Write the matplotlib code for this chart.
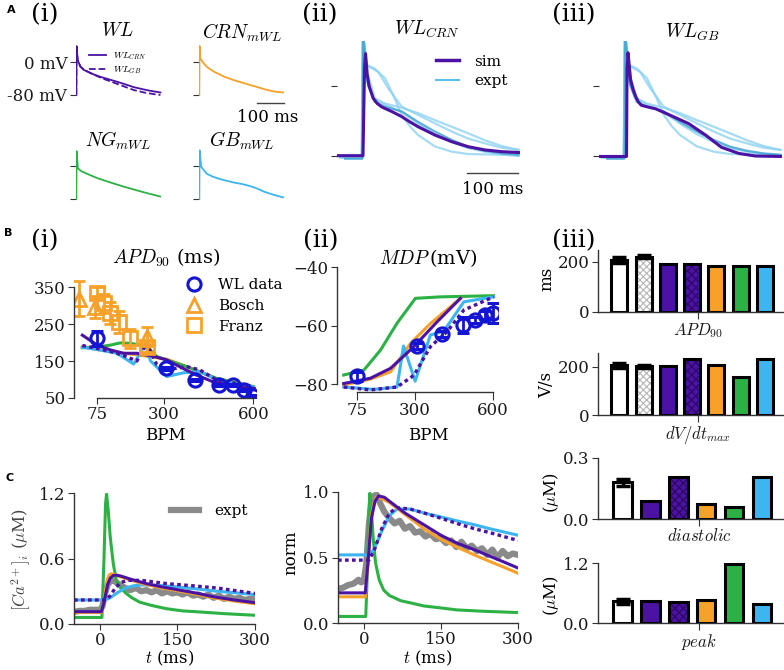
import matplotlib
matplotlib.use("Agg")
import matplotlib.pyplot as plt
from matplotlib.lines import Line2D

# colours
PURPLE = "#4b12a3"
ORANGE = "#f8a12a"
GREEN = "#2cb144"
BLUE = "#3db5f0"
EXPT_LIGHT = "#8fd2f2"
EXPT_DARK = "#3a9fd0"
WL_BLUE = "#1414d4"
GRAY = "#8a8a8a"

# ---------------- A(i): single action potentials (t in ms, V in mV)
t_wl_crn = [0, 1, 5, 15, 27, 60, 89, 120, 151, 180, 212, 245, 274, 311]
v_wl_crn = [-80, 38, 5, -11, -19, -29, -36, -42, -48, -54, -61, -66, -70, -74]
t_wl_gb = [0, 1, 5, 15, 27, 50, 76, 105, 138, 175, 212, 250, 286, 311]
v_wl_gb = [-80, 38, 4, -11, -18, -26, -34, -42, -50, -59, -68, -74, -78, -80]
t_crn = [0, 1, 4, 16, 30, 53, 90, 127, 158, 189, 220, 251, 280, 310]
v_crn = [-80, 39, 8, -3, -13, -23, -35, -44, -50, -56, -62, -68, -72, -74]
t_ng = [0, 1, 6, 20, 40, 80, 126, 170, 212, 245, 274, 310]
v_ng = [-80, 36, -6, -13, -19, -30, -40, -49, -57, -63, -68, -74]
t_gb = [0, 1, 7, 28, 50, 78, 127, 160, 189, 215, 238, 275, 310]
v_gb = [-80, 38, -2, -19, -26, -32, -40, -44, -49, -55, -62, -70, -76]

# ---------------- A(ii)/(iii): sim vs experiment
t_sim_crn = [-51, 0, 3, 5, 8, 12, 20, 28, 37, 56, 76, 92, 108, 141, 174, 206, 239, 272, 305]
v_sim_crn = [-79.6, -79.6, 20, 37, 14, 0, -14, -20, -24, -29, -35, -41, -46.5, -56, -63.6, -69.3, -73, -75, -76]
t_sim_gb = [-51, 3, 4, 6, 11, 16, 21, 26, 32, 45, 60, 91, 125, 158, 189, 223, 256, 305]
v_sim_gb = [-80.5, -80.5, 20, 38, 7, -4, -12, -18, -22, -24, -26, -34, -43, -56, -70, -77, -80, -80.5]

t_e1 = [-35, -3, 0, 7, 23, 43, 59, 76, 92, 108, 141, 174, 206, 305]
v_e1 = [-82.7, -82.7, 60, 24, 20, 9, -10, -33, -46, -56, -69, -75, -77.7, -79]
t_e2 = [-45, -2, 0, 7, 30, 50, 76, 108, 141, 174, 206, 239, 272, 305]
v_e2 = [-82, -82, 60, 24, 16, -3, -23.6, -33, -42.6, -52, -60, -65.5, -70.5, -73]
t_e3 = [-40, -2, 0, 10, 23, 43, 76, 108, 141, 174, 206, 239, 272, 305]
v_e3 = [-82, -82, 60, 12.6, -14, -20, -24.8, -31, -39, -46.5, -54, -62, -68.6, -73]
t_e4 = [-35, -1, 0, 10, 23, 43, 76, 108, 141, 174, 206, 239, 272, 305]
v_e4 = [-83, -83, 60, 1, -18, -23.6, -29, -41, -52, -61.6, -69.3, -74, -77, -78.5]
t_e5 = [-45, -2, 0, 8, 20, 40, 76, 108, 141, 174, 206, 239, 272, 305]
v_e5 = [-81, -81, 60, 5, -14, -20, -30, -43, -55, -64, -71, -75, -78, -80]

# ---------------- B(i): APD90 vs BPM
bpm_wl = [75, 308, 405, 485, 530, 570, 600]
apd_wl = [211, 130, 99, 85, 85, 71, 55]
apd_wl_err = [20, 5, 3, 3, 3, 3, 3]
bpm_bosch = [15, 67, 242]
apd_bosch = [319, 297, 216]
apd_bosch_err = [47, 30, 25]
bpm_franz = [76, 98, 120, 148, 187, 242]
apd_franz = [335, 306, 279, 256, 211, 189]
apd_franz_err = [15, 25, 30, 30, 25, 15]

bpm_apd_wlcrn = [26, 76, 120, 164, 209, 264, 309, 364, 409, 464, 520, 603]
apd_wlcrn = [220, 193, 180, 171, 171, 163, 153, 130, 112, 94, 85, 76]
bpm_apd_wlgb = [26, 76, 120, 164, 209, 242, 276, 309, 376, 420, 476, 597]
apd_wlgb = [192, 184, 176, 165, 150, 199, 140, 126, 135, 126, 99, 81]
bpm_apd_crn = [26, 76, 142, 198, 242, 309, 376, 476, 600]
apd_crn = [189, 181, 173, 168, 163, 155, 135, 103, 81]
bpm_apd_ng = [26, 76, 120, 153, 187, 220, 242, 276, 309, 376, 476, 600]
apd_ng = [186, 188, 193, 199, 198, 193, 189, 162, 153, 135, 103, 81]
bpm_apd_gb = [26, 76, 142, 198, 237, 255, 309, 364, 420, 476, 530, 600]
apd_gb = [187, 181, 171, 142, 195, 150, 108, 118, 122, 100, 90, 80]

# ---------------- B(ii): MDP vs BPM
mdp_wl = [-77.3, -67, -62.9, -59.8, -58.1, -56.4, -55.8]
mdp_wl_err = [1.5, 1, 1, 2.7, 1, 1.5, 3.5]
bpm_mdp_ng = [24, 102, 166, 230, 301, 398, 603]
mdp_ng = [-76.9, -75.2, -68.4, -59.2, -50.7, -50.2, -49.8]
bpm_mdp_wlcrn = [24, 127, 205, 295, 385, 475]
mdp_wlcrn = [-79.8, -78, -74.6, -67.2, -58.7, -50.7]
bpm_mdp_crn = [24, 127, 205, 282, 359, 475]
mdp_crn = [-80.3, -78.3, -75.8, -66.1, -59.3, -50.7]
bpm_mdp_gb = [24, 140, 230, 255, 300, 359, 410, 488, 603]
mdp_gb = [-81, -81.8, -81, -67, -79, -63.2, -62, -51.9, -50.2]
bpm_mdp_wlgb = [24, 127, 230, 295, 359, 424, 488, 603]
mdp_wlgb = [-81, -82, -81, -77, -67.2, -62, -54.7, -50.2]

# ---------------- B(iii): summary bars
bar_colors7 = ["white", "white", PURPLE, PURPLE, ORANGE, GREEN, BLUE]
bar_hatch7 = [None, "xxxxx", None, "xxxx", None, None, None]
bar_colors6 = ["white", PURPLE, PURPLE, ORANGE, GREEN, BLUE]
bar_hatch6 = [None, None, "xxxx", None, None, None]
apd_bars = [207, 221, 193, 193, 186, 183, 186]
apd_bars_err = [12, 6]
dvdt_bars = [206, 202, 203, 234, 207, 159, 233]
dvdt_bars_err = [12, 5]
dia_bars = [0.18, 0.09, 0.207, 0.076, 0.059, 0.207]
dia_bars_err = [0.018]
peak_bars = [0.44, 0.45, 0.43, 0.47, 1.19, 0.39]
peak_bars_err = [0.05]

# ---------------- C: calcium transients
t_ca_expt = [-50, -40, -30, -20, -10, 0, 5, 10, 15, 20, 26, 35, 45, 58, 70, 80, 90, 100, 110,
             120, 130, 140, 150, 160, 170, 180, 190, 200, 210, 220, 230, 240, 250, 260, 270,
             280, 290, 300]
ca_expt = [0.11, 0.12, 0.12, 0.13, 0.13, 0.13, 0.16, 0.28, 0.36, 0.39, 0.40, 0.37, 0.34, 0.31,
           0.33, 0.30, 0.31, 0.29, 0.31, 0.28, 0.30, 0.28, 0.29, 0.27, 0.29, 0.26, 0.27, 0.25,
           0.27, 0.24, 0.26, 0.23, 0.25, 0.23, 0.24, 0.22, 0.23, 0.24]
t_ca_ng = [-50, 4, 8, 11, 13, 16, 20, 26, 32, 40, 51, 62, 77, 100, 129, 160, 194, 240, 300]
ca_ng = [0.06, 0.06, 0.6, 1.1, 1.19, 1.05, 0.80, 0.55, 0.40, 0.33, 0.28, 0.24, 0.20, 0.17, 0.14,
         0.12, 0.11, 0.095, 0.08]
t_ca_wlcrn = [-50, 3, 8, 15, 20, 26, 33, 40, 60, 90, 120, 155, 190, 219, 260, 300]
ca_wlcrn = [0.113, 0.113, 0.2, 0.36, 0.42, 0.445, 0.447, 0.44, 0.41, 0.37, 0.34, 0.31, 0.28, 0.25, 0.22, 0.195]
t_ca_crn = [-50, 3, 8, 14, 18, 22, 28, 35, 60, 90, 120, 155, 190, 219, 260, 300]
ca_crn = [0.105, 0.105, 0.22, 0.40, 0.45, 0.46, 0.455, 0.44, 0.40, 0.36, 0.33, 0.30, 0.27, 0.24, 0.21, 0.185]
t_ca_wlgb = [-50, 12, 20, 30, 40, 55, 80, 129, 180, 226, 300]
ca_wlgb = [0.22, 0.22, 0.26, 0.33, 0.38, 0.40, 0.40, 0.37, 0.35, 0.33, 0.28]
t_ca_gb = [-50, 10, 20, 35, 50, 65, 77, 110, 150, 190, 226, 300]
ca_gb = [0.22, 0.22, 0.24, 0.29, 0.33, 0.35, 0.357, 0.355, 0.34, 0.32, 0.30, 0.27]

t_n_expt = [-50, -40, -30, -20, -10, -5, 0, 5, 10, 15, 20, 25, 30, 40, 50, 60, 70, 80, 90, 100,
            110, 120, 130, 140, 150, 160, 170, 180, 190, 200, 210, 220, 230, 240, 250, 260,
            270, 280, 290, 300]
n_expt = [0.26, 0.27, 0.29, 0.30, 0.33, 0.31, 0.32, 0.45, 0.75, 0.92, 0.97, 0.98, 0.93, 0.85,
          0.80, 0.76, 0.78, 0.72, 0.74, 0.69, 0.70, 0.66, 0.68, 0.64, 0.65, 0.61, 0.63, 0.58,
          0.62, 0.57, 0.59, 0.55, 0.57, 0.52, 0.56, 0.50, 0.55, 0.51, 0.53, 0.52]
t_n_ng = [-50, 4, 8, 10, 12, 15, 19, 23, 30, 39, 50, 72, 95, 117, 150, 181, 230, 298]
n_ng = [0.05, 0.05, 0.5, 0.85, 0.99, 0.85, 0.62, 0.46, 0.33, 0.25, 0.21, 0.17, 0.15, 0.13, 0.115,
        0.10, 0.09, 0.08]
t_n_wlcrn = [-50, 3, 8, 15, 22, 29, 40, 50, 80, 117, 150, 181, 215, 245, 270, 300]
n_wlcrn = [0.23, 0.23, 0.45, 0.8, 0.93, 0.97, 0.96, 0.93, 0.84, 0.75, 0.67, 0.61, 0.56, 0.51, 0.47, 0.42]
t_n_crn = [-50, 3, 8, 14, 20, 25, 35, 50, 80, 117, 150, 181, 215, 245, 270, 300]
n_crn = [0.20, 0.20, 0.45, 0.8, 0.92, 0.96, 0.95, 0.92, 0.83, 0.72, 0.64, 0.58, 0.52, 0.47, 0.43, 0.38]
t_n_wlgb = [-50, 10, 20, 35, 50, 65, 90, 117, 150, 181, 215, 245, 300]
n_wlgb = [0.48, 0.48, 0.55, 0.72, 0.84, 0.88, 0.87, 0.84, 0.80, 0.76, 0.72, 0.69, 0.63]
t_n_gb = [-50, 10, 20, 35, 50, 65, 90, 117, 150, 181, 215, 245, 300]
n_gb = [0.52, 0.52, 0.56, 0.70, 0.82, 0.87, 0.87, 0.84, 0.81, 0.78, 0.75, 0.72, 0.67]

W, H = 784, 670
DOTTED = (0, (1.1, 1.0))

plt.rcParams.update({
    "font.family": "DejaVu Serif",
    "mathtext.fontset": "cm",
    "font.size": 12,
    "axes.linewidth": 1.0,
    "axes.edgecolor": "#333333",
    "xtick.color": "#333333",
    "ytick.color": "#333333",
    "xtick.labelcolor": "#1a1a1a",
    "ytick.labelcolor": "#1a1a1a",
    "xtick.major.size": 4,
    "ytick.major.size": 4,
    "xtick.major.pad": 1.5,
    "ytick.major.pad": 2,
    "xtick.labelsize": 12,
    "ytick.labelsize": 12,
    "hatch.linewidth": 0.8,
})

fig = plt.figure(figsize=(W / 100, H / 100), dpi=100)


def add_ax(left, top, right, bottom):
    return fig.add_axes([left / W, 1 - bottom / H, (right - left) / W, (bottom - top) / H])


def put_text(x, y, s, **kw):
    kw.setdefault("ha", "center")
    kw.setdefault("va", "center")
    fig.text(x / W, 1 - y / H, s, **kw)


def clean(ax):
    ax.spines["top"].set_visible(False)
    ax.spines["right"].set_visible(False)


def ap_axes(ax):
    for s in ax.spines.values():
        s.set_visible(False)
    ax.set_xticks([])
    ax.set_yticks([0, -80])
    ax.set_yticklabels([])
    ax.patch.set_alpha(0)


# ---------------- A(i)
ax_wl = add_ax(75.5, 43.5, 161.5, 97)
ax_wl.plot(t_wl_crn, v_wl_crn, color=PURPLE, lw=1.3, label="$WL_{CRN}$")
ax_wl.plot(t_wl_gb, v_wl_gb, color=PURPLE, lw=1.3, ls="--", label="$WL_{GB}$")
ap_axes(ax_wl)
ax_wl.set_yticklabels(["0 mV", "-80 mV"])
ax_wl.legend(loc="center left", bbox_to_anchor=(89 / W, 1 - 63.5 / H), bbox_transform=fig.transFigure,
             frameon=False, fontsize=7, handlelength=1.7, handletextpad=0.8, labelspacing=0.25,
             borderpad=0, borderaxespad=0)

ax_crn = add_ax(198.5, 43.5, 284.5, 97)
ax_crn.plot(t_crn, v_crn, color=ORANGE, lw=1.3)
ap_axes(ax_crn)
ax_crn.plot([214, 314], [-100, -100], color="#444444", lw=1, clip_on=False)

ax_ng = add_ax(75.5, 147.5, 161.5, 201)
ax_ng.plot(t_ng, v_ng, color=GREEN, lw=1.3)
ap_axes(ax_ng)

ax_gbm = add_ax(198.5, 147.5, 284.5, 201)
ax_gbm.plot(t_gb, v_gb, color=BLUE, lw=1.3)
ap_axes(ax_gbm)

for ax in [ax_wl, ax_crn, ax_ng, ax_gbm]:
    ax.set_xlim(-3, 315)
    ax.set_ylim(-85, 45)

put_text(117, 31, "$WL$", fontsize=14)
put_text(242, 33, "$CRN_{mWL}$", fontsize=14)
put_text(118, 141, "$NG_{mWL}$", fontsize=14)
put_text(242, 141, "$GB_{mWL}$", fontsize=14)
put_text(268, 118, "100 ms", fontsize=12)

# ---------------- A(ii) and A(iii)
expt_sets = [(t_e1, v_e1, EXPT_LIGHT), (t_e2, v_e2, EXPT_LIGHT), (t_e3, v_e3, EXPT_LIGHT),
             (t_e5, v_e5, EXPT_LIGHT), (t_e4, v_e4, EXPT_DARK)]

ax_a2 = add_ax(337, 41.4, 520, 160.4)
ax_a3 = add_ax(599, 41.4, 782, 160.4)
for ax, ts, vs in [(ax_a2, t_sim_crn, v_sim_crn), (ax_a3, t_sim_gb, v_sim_gb)]:
    for te, ve, ce in expt_sets:
        ax.plot(te, ve, color=ce, lw=1.6, alpha=0.8)
    ax.plot(ts, vs, color=PURPLE, lw=2.2)
    ax.set_xlim(-51, 308)
    ax.set_ylim(-85, 51)
    ap_axes(ax)

ax_a2.plot([204, 304], [-99.4, -99.4], color="#444444", lw=1, clip_on=False)
put_text(493, 190, "100 ms", fontsize=12)
sim_handles = [Line2D([], [], color=PURPLE, lw=2.5), Line2D([], [], color="#5bbfea", lw=1.5)]
ax_a2.legend(sim_handles, ["sim", "expt"], loc="center left", bbox_to_anchor=(436 / W, 1 - 71.5 / H),
             bbox_transform=fig.transFigure, frameon=False, fontsize=11, handlelength=1.5,
             handletextpad=1.0, labelspacing=0.35, borderpad=0, borderaxespad=0)
put_text(427, 29, "$WL_{CRN}$", fontsize=14)
put_text(692, 32, "$WL_{GB}$", fontsize=14)

# ---------------- B(i)
ax_b1 = add_ax(74, 276, 256.4, 398)
ax_b1.plot(bpm_apd_crn, apd_crn, color=ORANGE, lw=2.2)
ax_b1.plot(bpm_apd_ng, apd_ng, color=GREEN, lw=2.2)
ax_b1.plot(bpm_apd_gb, apd_gb, color=BLUE, lw=2.2)
ax_b1.plot(bpm_apd_wlgb, apd_wlgb, color=PURPLE, lw=2.4, ls=DOTTED)
ax_b1.plot(bpm_apd_wlcrn, apd_wlcrn, color=PURPLE, lw=2.2)
ax_b1.errorbar(bpm_bosch, apd_bosch, yerr=apd_bosch_err, fmt="^", ms=10, mfc="none", mec=ORANGE,
               mew=2, ecolor=ORANGE, elinewidth=2, capsize=4, capthick=2)
ax_b1.errorbar(bpm_franz, apd_franz, yerr=apd_franz_err, fmt="s", ms=10, mfc="none", mec=ORANGE,
               mew=2, ecolor=ORANGE, elinewidth=2, capsize=4, capthick=2)
ax_b1.errorbar(bpm_wl, apd_wl, yerr=apd_wl_err, fmt="o", ms=9.5, mfc="none", mec=WL_BLUE,
               mew=2.2, ecolor=WL_BLUE, elinewidth=2, capsize=4, capthick=2)
ax_b1.set_xlim(-2, 610)
ax_b1.set_ylim(50, 380)
ax_b1.set_xticks([75, 300, 600])
ax_b1.set_yticks([50, 150, 250, 350])
clean(ax_b1)
ax_b1.spines["left"].set_bounds(50, 350)
ax_b1.spines["bottom"].set_bounds(75, 600)
mk_handles = [Line2D([], [], ls="none", marker="o", ms=9.5, mfc="none", mec=WL_BLUE, mew=2.2),
              Line2D([], [], ls="none", marker="^", ms=10, mfc="none", mec=ORANGE, mew=2),
              Line2D([], [], ls="none", marker="s", ms=10, mfc="none", mec=ORANGE, mew=2)]
ax_b1.legend(mk_handles, ["WL data", "Bosch", "Franz"], loc="upper left",
             bbox_to_anchor=(186 / W, 1 - 278 / H), bbox_transform=fig.transFigure, frameon=False,
             fontsize=11, handlelength=1.0, handletextpad=1.1, labelspacing=0.45, borderpad=0,
             borderaxespad=0)
put_text(166, 258, "$APD_{90}$ (ms)", fontsize=14)
put_text(165, 435, "BPM", fontsize=12)

# ---------------- B(ii)
ax_b2 = add_ax(337, 267, 498, 392)
ax_b2.plot(bpm_mdp_ng, mdp_ng, color=GREEN, lw=2.2)
ax_b2.plot(bpm_mdp_crn, mdp_crn, color=ORANGE, lw=2.2)
ax_b2.plot(bpm_mdp_gb, mdp_gb, color=BLUE, lw=2.2)
ax_b2.plot(bpm_mdp_wlcrn, mdp_wlcrn, color=PURPLE, lw=2.2)
ax_b2.plot(bpm_mdp_wlgb, mdp_wlgb, color=PURPLE, lw=2.4, ls=DOTTED)
ax_b2.errorbar(bpm_wl, mdp_wl, yerr=mdp_wl_err, fmt="o", ms=9.5, mfc="none", mec=WL_BLUE,
               mew=2.2, ecolor=WL_BLUE, elinewidth=2, capsize=4, capthick=2)
ax_b2.set_xlim(-2, 620)
ax_b2.set_ylim(-82.7, -40)
ax_b2.set_xticks([75, 300, 600])
ax_b2.set_yticks([-80, -60, -40])
clean(ax_b2)
ax_b2.spines["left"].set_bounds(-80, -40)
ax_b2.spines["bottom"].set_bounds(75, 600)
ax_b2.tick_params(axis="x", length=6)
put_text(428, 258, "$MDP\\,$(mV)", fontsize=14)
put_text(428, 435, "BPM", fontsize=12)


# ---------------- B(iii) bars
def bar_panel(ax, vals, errs, colors, hatches, ticks, ticklabels, xlabel):
    n = len(vals)
    xs = list(range(n))
    for x, v, c, h in zip(xs, vals, colors, hatches):
        if h is None:
            ax.bar(x, v, width=0.66, color=c, lw=0)
        else:
            hc = "#b5b5b5" if c == "white" else "#2a0860"
            ax.bar(x, v, width=0.66, color=c, hatch=h, edgecolor=hc, lw=0)
        ax.bar(x, v, width=0.66, fill=False, edgecolor="black", lw=2.2)
    ax.errorbar(xs[:len(errs)], vals[:len(errs)], yerr=errs, fmt="none", ecolor="black",
                elinewidth=2.5, capsize=5, capthick=2.5)
    ax.set_xlim(-0.88, n - 1 + 0.75)
    ax.set_yticks(ticks)
    ax.set_yticklabels(ticklabels)
    ax.set_xticks([(n - 1) / 2 + 0.25])
    ax.set_xticklabels([xlabel])
    ax.tick_params(axis="x", length=5)
    clean(ax)


ax_apd = add_ax(598, 250, 783, 312)
bar_panel(ax_apd, apd_bars, apd_bars_err, bar_colors7, bar_hatch7, [0, 200], ["0", "200"], "$APD_{90}$")
ax_apd.set_ylim(0, 248)
ax_dv = add_ax(598, 353, 783, 415)
bar_panel(ax_dv, dvdt_bars, dvdt_bars_err, bar_colors7, bar_hatch7, [0, 200], ["0", "200"], "$dV/dt_{max}$")
ax_dv.set_ylim(0, 258)
ax_dia = add_ax(598, 458, 783, 519)
bar_panel(ax_dia, dia_bars, dia_bars_err, bar_colors6, bar_hatch6, [0, 0.3], ["0.0", "0.3"], "$diastolic$")
ax_dia.set_ylim(0, 0.3)
ax_pk = add_ax(598, 563, 783, 623)
bar_panel(ax_pk, peak_bars, peak_bars_err, bar_colors6, bar_hatch6, [0, 1.2], ["0.0", "1.2"], "$peak$")
ax_pk.set_ylim(0, 1.2)

put_text(547, 279, "ms", fontsize=12, rotation=90)
put_text(547, 385, "V/s", fontsize=12, rotation=90)
put_text(551, 493, "($\\mu$M)", fontsize=12, rotation=90)
put_text(551, 596, "($\\mu$M)", fontsize=12, rotation=90)

# ---------------- C(i) calcium
ax_c1 = add_ax(74, 493, 255, 624)
ax_c1.plot(t_ca_expt, ca_expt, color=GRAY, lw=4.5, label="expt")
ax_c1.plot(t_ca_ng, ca_ng, color=GREEN, lw=2.2)
ax_c1.plot(t_ca_gb, ca_gb, color=BLUE, lw=2.2)
ax_c1.plot(t_ca_crn, ca_crn, color=ORANGE, lw=2.2)
ax_c1.plot(t_ca_wlgb, ca_wlgb, color=PURPLE, lw=2.4, ls=DOTTED)
ax_c1.plot(t_ca_wlcrn, ca_wlcrn, color=PURPLE, lw=2.2)
ax_c1.set_xlim(-50, 300)
ax_c1.set_ylim(0, 1.2)
ax_c1.set_xticks([0, 150, 300])
ax_c1.set_yticks([0, 0.6, 1.2])
ax_c1.set_yticklabels(["0.0", "0.6", "1.2"])
clean(ax_c1)
ax_c1.legend(loc="center left", bbox_to_anchor=(171 / W, 1 - 511 / H), bbox_transform=fig.transFigure,
             frameon=False, fontsize=11, handlelength=1.8, handletextpad=1.0, borderpad=0,
             borderaxespad=0)
put_text(21, 560, "$[Ca^{2+}]_i$ ($\\mu$M)", fontsize=12, rotation=90, color="#444444")
put_text(170, 658, "$t$ (ms)", fontsize=12)

# ---------------- C(ii) normalised
ax_c2 = add_ax(338, 492, 518, 623)
ax_c2.plot(t_n_expt, n_expt, color=GRAY, lw=4.5)
ax_c2.plot(t_n_ng, n_ng, color=GREEN, lw=2.2)
ax_c2.plot(t_n_gb, n_gb, color=BLUE, lw=2.2)
ax_c2.plot(t_n_crn, n_crn, color=ORANGE, lw=2.2)
ax_c2.plot(t_n_wlgb, n_wlgb, color=PURPLE, lw=2.4, ls=DOTTED)
ax_c2.plot(t_n_wlcrn, n_wlcrn, color=PURPLE, lw=2.2)
ax_c2.set_xlim(-50, 300)
ax_c2.set_ylim(0, 1.0)
ax_c2.set_xticks([0, 150, 300])
ax_c2.set_yticks([0, 0.5, 1.0])
ax_c2.set_yticklabels(["0.0", "0.5", "1.0"])
clean(ax_c2)
put_text(291, 553, "norm", fontsize=12, rotation=90)
put_text(428, 658, "$t$ (ms)", fontsize=12)

# ---------------- panel labels
put_text(11, 10, "A", fontsize=8, fontweight="bold", family="DejaVu Sans")
put_text(8, 233, "B", fontsize=8, fontweight="bold", family="DejaVu Sans")
put_text(10, 478, "C", fontsize=8, fontweight="bold", family="DejaVu Sans")
put_text(45, 15, "(i)", fontsize=18)
put_text(320, 15, "(ii)", fontsize=18)
put_text(574, 15, "(iii)", fontsize=18)
put_text(45, 241, "(i)", fontsize=18)
put_text(321, 241, "(ii)", fontsize=18)
put_text(574, 241, "(iii)", fontsize=18)

fig.savefig("out.png", dpi=100)
